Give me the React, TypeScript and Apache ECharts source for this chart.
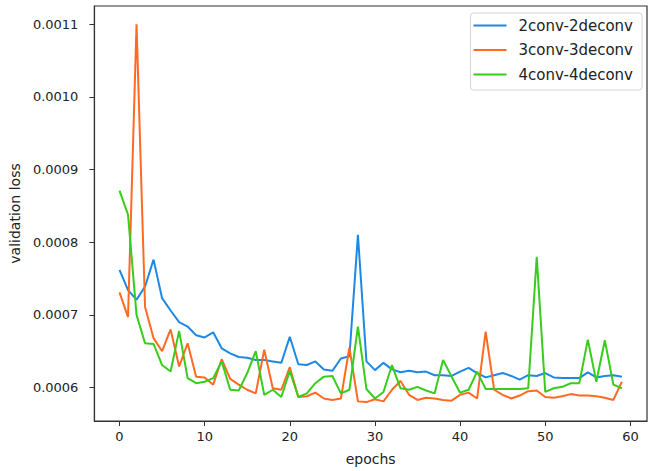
import React, { useEffect, useRef } from "react";
import * as echarts from "echarts";

// values in units of 1e-4
const SCALE = 1e-4;
const epochs: number[] = Array.from({ length: 60 }, (_, i) => i);
const loss2conv: number[] = [
  7.62, 7.34, 7.21, 7.39, 7.76, 7.23, 7.06, 6.9, 6.84, 6.72,
  6.69, 6.76, 6.54, 6.47, 6.42, 6.41, 6.38, 6.38, 6.36, 6.34,
  6.7, 6.32, 6.31, 6.36, 6.25, 6.23, 6.4, 6.43, 8.1, 6.36,
  6.24, 6.34, 6.25, 6.21, 6.23, 6.21, 6.22, 6.17, 6.17, 6.16,
  6.22, 6.27, 6.2, 6.14, 6.17, 6.2, 6.16, 6.11, 6.17, 6.16,
  6.2, 6.14, 6.13, 6.13, 6.13, 6.21, 6.14, 6.16, 6.17, 6.15,
];
const loss3conv: number[] = [
  7.31, 6.97, 11.0, 7.11, 6.68, 6.5, 6.8, 6.29, 6.61, 6.15,
  6.14, 6.04, 6.39, 6.12, 6.04, 5.97, 5.92, 6.52, 5.99, 5.97,
  6.28, 5.87, 5.88, 5.93, 5.85, 5.83, 5.85, 6.55, 5.81, 5.8,
  5.84, 5.81, 5.97, 6.09, 5.9, 5.83, 5.86, 5.85, 5.83, 5.82,
  5.9, 5.93, 5.85, 6.77, 5.97, 5.9, 5.85, 5.89, 5.95, 5.96,
  5.87, 5.86, 5.88, 5.91, 5.89, 5.89, 5.88, 5.86, 5.83, 6.08,
];
const loss4conv: number[] = [
  8.71, 8.38, 7.0, 6.61, 6.6, 6.31, 6.22, 6.78, 6.13, 6.06,
  6.08, 6.13, 6.36, 5.97, 5.96, 6.2, 6.5, 5.9, 5.97, 5.87,
  6.23, 5.87, 5.92, 6.06, 6.15, 6.16, 5.92, 5.97, 6.84, 5.98,
  5.85, 5.94, 6.31, 5.99, 5.97, 6.01, 5.96, 5.92, 6.38, 6.15,
  5.93, 5.97, 6.22, 5.98, 5.98, 5.98, 5.98, 5.98, 5.99, 7.8,
  5.94, 5.99, 6.01, 6.06, 6.06, 6.66, 6.08, 6.65, 6.04, 5.99,
];
const seriesNames: string[] = ["2conv-2deconv", "3conv-3deconv", "4conv-4deconv"];
const seriesColors: string[] = ["#1e88e5", "#ff6a22", "#38cc1c"];
const xTicks: number[] = [0, 10, 20, 30, 40, 50, 60];
const yTicks: number[] = [0.0006, 0.0007, 0.0008, 0.0009, 0.001, 0.0011];

const FONT = "DejaVu Sans";

export default function App() {
  const ref = useRef<HTMLDivElement>(null);
  useEffect(() => {
    if (!ref.current) return;
    const chart = echarts.init(ref.current, undefined, { renderer: "svg" });
    const all = [loss2conv, loss3conv, loss4conv];
    chart.setOption({
      animation: false,
      backgroundColor: "#ffffff",
      grid: {
        left: 90,
        right: 7,
        top: 6,
        bottom: 50,
        show: true,
        borderColor: "#333",
        borderWidth: 1.2,
        backgroundColor: "transparent",
      },
      legend: {
        orient: "vertical",
        right: 12,
        top: 13,
        icon: "rect",
        itemWidth: 33,
        itemHeight: 2,
        itemGap: 9.5,
        padding: [5, 9, 8, 3],
        backgroundColor: "#fff",
        borderColor: "#d4d4d4",
        borderWidth: 1,
        borderRadius: 3,
        textStyle: {
          fontFamily: FONT,
          fontSize: 15,
          color: "#222",
          lineHeight: 14,
          padding: [0, 0, 0, 7],
        },
        data: seriesNames,
      },
      xAxis: {
        type: "value",
        min: -2.95,
        max: 61.95,
        name: "epochs",
        nameLocation: "middle",
        nameGap: 31,
        nameTextStyle: { fontFamily: FONT, fontSize: 14, color: "#222" },
        splitLine: { show: false },
        axisLine: { show: true, onZero: false, lineStyle: { color: "#333", width: 1.2 } },
        axisTick: { show: true, length: 5, customValues: xTicks, lineStyle: { color: "#333" } },
        axisLabel: {
          customValues: xTicks,
          fontFamily: FONT,
          fontSize: 13,
          color: "#222",
          margin: 9,
        },
      },
      yAxis: {
        type: "value",
        min: 0.000554,
        max: 0.001125,
        name: "validation loss",
        nameLocation: "middle",
        nameGap: 70,
        nameTextStyle: { fontFamily: FONT, fontSize: 14, color: "#222" },
        splitLine: { show: false },
        axisLine: { show: true, onZero: false, lineStyle: { color: "#333", width: 1.2 } },
        axisTick: { show: true, length: 5, customValues: yTicks, lineStyle: { color: "#333" } },
        axisLabel: {
          customValues: yTicks,
          fontFamily: FONT,
          fontSize: 13,
          color: "#222",
          margin: 16,
          formatter: (v: number) => v.toFixed(4),
        },
      },
      series: all.map((arr, k) => ({
        name: seriesNames[k],
        type: "line",
        symbol: "none",
        showSymbol: false,
        color: seriesColors[k],
        lineStyle: { width: 2, color: seriesColors[k] },
        data: epochs.map((e, i) => [e, arr[i] * SCALE]),
      })),
    });
    return () => chart.dispose();
  }, []);
  return <div ref={ref} style={{ width: 654, height: 471, position: "absolute", left: 0, top: 0 }} />;
}
